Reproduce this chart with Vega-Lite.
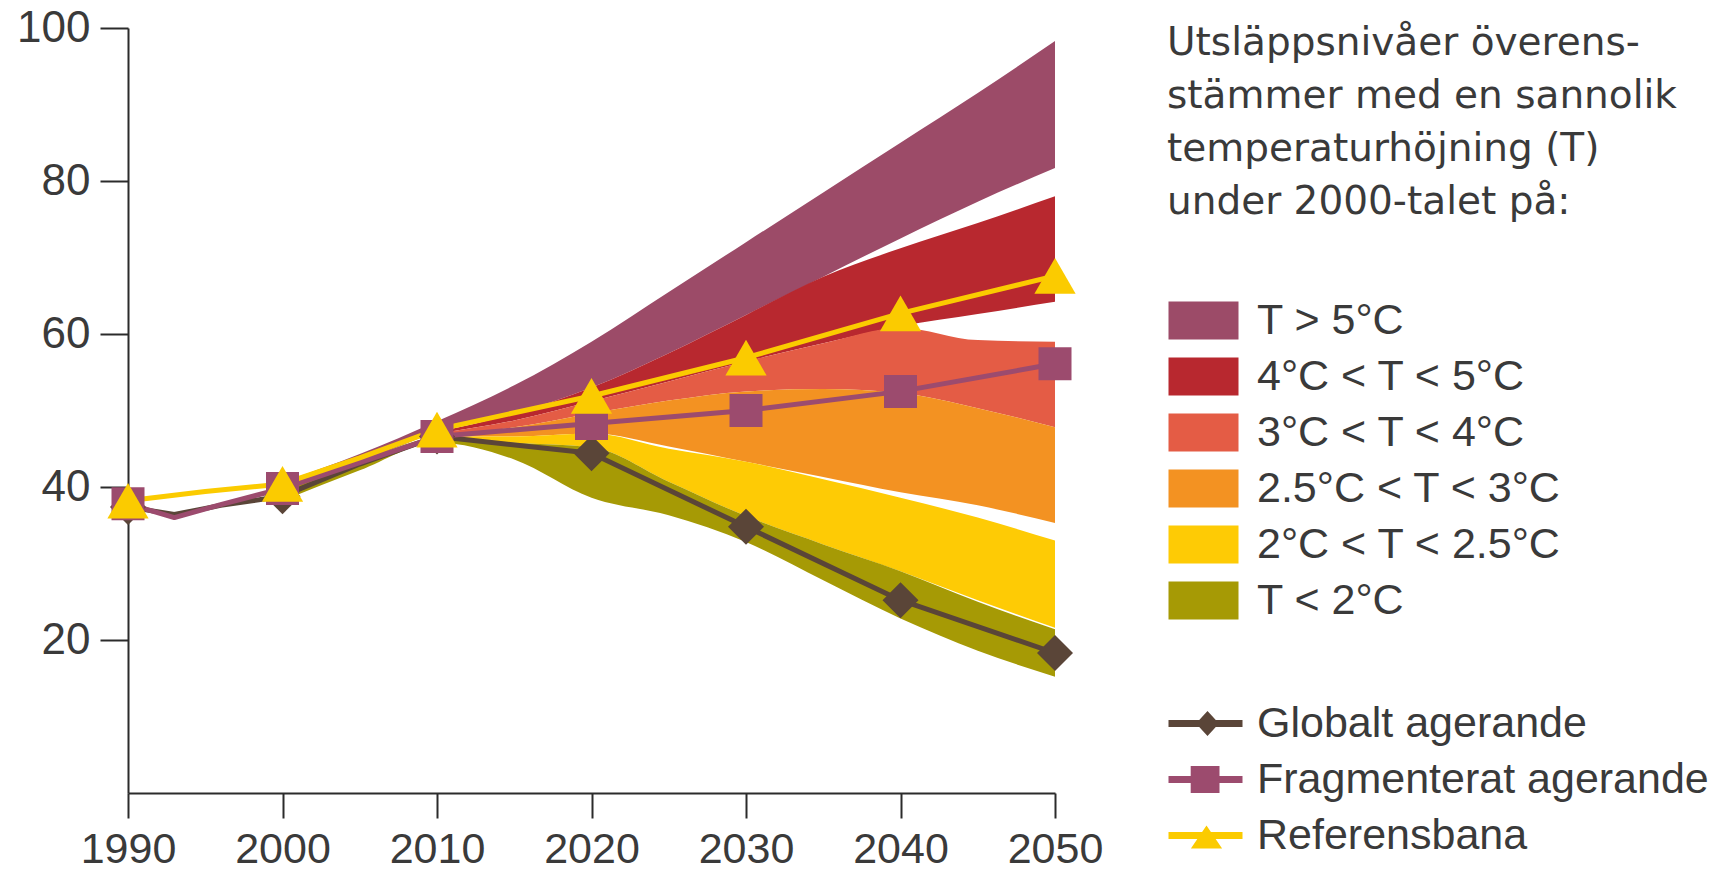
{
  "$schema": "https://vega.github.io/schema/vega-lite/v6.json",
  "autosize": {"type": "none"},
  "width": 927,
  "height": 765,
  "padding": {"left": 128, "top": 28, "right": 672, "bottom": 79},
  "background": "white",
  "config": {
    "view": {"stroke": null},
    "font": "Liberation Sans",
    "axis": {"labelFont": "Liberation Sans", "labelFontSize": 43, "labelColor": "#3a3a3a", "domainColor": "#2b2b2b", "tickColor": "#2b2b2b", "domainWidth": 2, "tickWidth": 2, "grid": false, "title": null},
    "legend": {"labelFont": "Liberation Sans", "titleFont": "DejaVu Sans", "labelColor": "#3a3a3a", "titleColor": "#3a3a3a", "padding": 0, "labelLimit": 700, "titleLimit": 700}
  },
  "datasets": {
    "bands": [
      {"band": "T > 5°C", "year": 2000, "v": 40.6, "lo": 39.4},
      {"band": "T > 5°C", "year": 2005, "v": 44.3, "lo": 43.2},
      {"band": "T > 5°C", "year": 2010, "v": 48.6, "lo": 47.2},
      {"band": "T > 5°C", "year": 2015, "v": 53.3, "lo": 49.6},
      {"band": "T > 5°C", "year": 2020, "v": 59.0, "lo": 53.0},
      {"band": "T > 5°C", "year": 2025, "v": 65.5, "lo": 57.5},
      {"band": "T > 5°C", "year": 2030, "v": 72.0, "lo": 62.5},
      {"band": "T > 5°C", "year": 2035, "v": 78.5, "lo": 67.5},
      {"band": "T > 5°C", "year": 2040, "v": 85.0, "lo": 72.5},
      {"band": "T > 5°C", "year": 2045, "v": 91.5, "lo": 77.3},
      {"band": "T > 5°C", "year": 2050, "v": 98.3, "lo": 81.7},
      {"band": "4°C < T < 5°C", "year": 2010, "v": 47.2, "lo": 47.0},
      {"band": "4°C < T < 5°C", "year": 2015, "v": 49.6, "lo": 48.7},
      {"band": "4°C < T < 5°C", "year": 2020, "v": 53.0, "lo": 51.2},
      {"band": "4°C < T < 5°C", "year": 2025, "v": 57.5, "lo": 53.8},
      {"band": "4°C < T < 5°C", "year": 2030, "v": 62.5, "lo": 56.4},
      {"band": "4°C < T < 5°C", "year": 2035, "v": 67.5, "lo": 58.8},
      {"band": "4°C < T < 5°C", "year": 2040, "v": 71.2, "lo": 61.0},
      {"band": "4°C < T < 5°C", "year": 2045, "v": 74.5, "lo": 62.6},
      {"band": "4°C < T < 5°C", "year": 2050, "v": 78.0, "lo": 64.2},
      {"band": "3°C < T < 4°C", "year": 2010, "v": 47.0, "lo": 46.8},
      {"band": "3°C < T < 4°C", "year": 2015, "v": 48.7, "lo": 47.8},
      {"band": "3°C < T < 4°C", "year": 2020, "v": 51.2, "lo": 49.6},
      {"band": "3°C < T < 4°C", "year": 2025, "v": 53.8, "lo": 51.3},
      {"band": "3°C < T < 4°C", "year": 2030, "v": 56.4, "lo": 52.5},
      {"band": "3°C < T < 4°C", "year": 2035, "v": 58.8, "lo": 52.8},
      {"band": "3°C < T < 4°C", "year": 2040, "v": 60.8, "lo": 52.3},
      {"band": "3°C < T < 4°C", "year": 2045, "v": 59.2, "lo": 50.3},
      {"band": "3°C < T < 4°C", "year": 2050, "v": 59.0, "lo": 47.8},
      {"band": "2.5°C < T < 3°C", "year": 2010, "v": 46.8, "lo": 46.6},
      {"band": "2.5°C < T < 3°C", "year": 2015, "v": 47.8, "lo": 46.6},
      {"band": "2.5°C < T < 3°C", "year": 2020, "v": 49.6, "lo": 47.0},
      {"band": "2.5°C < T < 3°C", "year": 2025, "v": 51.3, "lo": 45.3},
      {"band": "2.5°C < T < 3°C", "year": 2030, "v": 52.5, "lo": 43.3},
      {"band": "2.5°C < T < 3°C", "year": 2035, "v": 52.8, "lo": 41.3},
      {"band": "2.5°C < T < 3°C", "year": 2040, "v": 52.3, "lo": 39.3},
      {"band": "2.5°C < T < 3°C", "year": 2045, "v": 50.3, "lo": 37.6},
      {"band": "2.5°C < T < 3°C", "year": 2050, "v": 47.8, "lo": 35.3},
      {"band": "2°C < T < 2.5°C", "year": 2010, "v": 46.6, "lo": 46.4},
      {"band": "2°C < T < 2.5°C", "year": 2015, "v": 46.6, "lo": 45.8},
      {"band": "2°C < T < 2.5°C", "year": 2020, "v": 47.0, "lo": 45.2},
      {"band": "2°C < T < 2.5°C", "year": 2025, "v": 45.0, "lo": 40.7},
      {"band": "2°C < T < 2.5°C", "year": 2030, "v": 43.3, "lo": 36.2},
      {"band": "2°C < T < 2.5°C", "year": 2035, "v": 41.0, "lo": 32.5},
      {"band": "2°C < T < 2.5°C", "year": 2040, "v": 38.6, "lo": 29.0},
      {"band": "2°C < T < 2.5°C", "year": 2045, "v": 36.0, "lo": 25.2},
      {"band": "2°C < T < 2.5°C", "year": 2050, "v": 33.0, "lo": 21.6},
      {"band": "T < 2°C", "year": 2000, "v": 39.4, "lo": 38.2},
      {"band": "T < 2°C", "year": 2005, "v": 43.2, "lo": 42.2},
      {"band": "T < 2°C", "year": 2010, "v": 46.4, "lo": 45.8},
      {"band": "T < 2°C", "year": 2015, "v": 45.8, "lo": 43.6},
      {"band": "T < 2°C", "year": 2020, "v": 45.2, "lo": 38.6},
      {"band": "T < 2°C", "year": 2025, "v": 40.7, "lo": 36.3},
      {"band": "T < 2°C", "year": 2030, "v": 36.2, "lo": 32.8},
      {"band": "T < 2°C", "year": 2035, "v": 32.5, "lo": 27.8},
      {"band": "T < 2°C", "year": 2040, "v": 29.0, "lo": 22.8},
      {"band": "T < 2°C", "year": 2045, "v": 25.0, "lo": 18.6},
      {"band": "T < 2°C", "year": 2050, "v": 21.4, "lo": 15.2}
    ],
    "series": [
      {"series": "Globalt agerande", "year": 1990, "v": 37.4},
      {"series": "Globalt agerande", "year": 1993, "v": 36.4},
      {"series": "Globalt agerande", "year": 1996, "v": 37.6},
      {"series": "Globalt agerande", "year": 2000, "v": 38.8},
      {"series": "Globalt agerande", "year": 2005, "v": 43.0},
      {"series": "Globalt agerande", "year": 2010, "v": 46.6},
      {"series": "Globalt agerande", "year": 2020, "v": 44.4},
      {"series": "Globalt agerande", "year": 2030, "v": 34.8},
      {"series": "Globalt agerande", "year": 2040, "v": 25.2},
      {"series": "Globalt agerande", "year": 2050, "v": 18.3},
      {"series": "Fragmenterat agerande", "year": 1990, "v": 37.8},
      {"series": "Fragmenterat agerande", "year": 1993, "v": 36.0},
      {"series": "Fragmenterat agerande", "year": 1996, "v": 37.7},
      {"series": "Fragmenterat agerande", "year": 2000, "v": 39.8},
      {"series": "Fragmenterat agerande", "year": 2005, "v": 43.2},
      {"series": "Fragmenterat agerande", "year": 2010, "v": 46.6},
      {"series": "Fragmenterat agerande", "year": 2020, "v": 48.3},
      {"series": "Fragmenterat agerande", "year": 2030, "v": 50.0},
      {"series": "Fragmenterat agerande", "year": 2040, "v": 52.5},
      {"series": "Fragmenterat agerande", "year": 2050, "v": 56.1},
      {"series": "Referensbana", "year": 1990, "v": 38.2},
      {"series": "Referensbana", "year": 1995, "v": 39.4},
      {"series": "Referensbana", "year": 2000, "v": 40.4},
      {"series": "Referensbana", "year": 2005, "v": 43.8},
      {"series": "Referensbana", "year": 2010, "v": 47.5},
      {"series": "Referensbana", "year": 2020, "v": 51.9},
      {"series": "Referensbana", "year": 2030, "v": 56.9},
      {"series": "Referensbana", "year": 2040, "v": 62.7},
      {"series": "Referensbana", "year": 2050, "v": 67.6}
    ]
  },
  "encoding": {
    "x": {
      "field": "year", "type": "quantitative",
      "scale": {"domain": [1990, 2050], "nice": false, "zero": false},
      "axis": {"values": [1990, 2000, 2010, 2020, 2030, 2040, 2050], "format": "d", "tickSize": 25, "labelPadding": 10, "labelFlush": false, "labelOverlap": false}
    },
    "y": {
      "field": "v", "type": "quantitative",
      "scale": {"domain": [0, 100], "nice": false},
      "axis": {"values": [20, 40, 60, 80, 100], "tickSize": 28, "labelPadding": 10, "labelOverlap": false, "labelFontSize": 44}
    }
  },
  "layer": [
    {
      "data": {"name": "bands"},
      "mark": {"type": "area", "interpolate": "monotone", "opacity": 1},
      "encoding": {
        "y2": {"field": "lo"},
        "fill": {
          "field": "band", "type": "nominal",
          "scale": {
            "domain": ["T > 5°C", "4°C < T < 5°C", "3°C < T < 4°C", "2.5°C < T < 3°C", "2°C < T < 2.5°C", "T < 2°C"],
            "range": ["#9c4b68", "#b8282f", "#e45c45", "#f39222", "#fecb05", "#a69a05"]
          },
          "legend": {
            "orient": "none", "legendX": 1039, "legendY": -4,
            "title": ["Utsläppsnivåer överens-", "stämmer med en sannolik", "temperaturhöjning (T)", "under 2000-talet på:"],
            "titleFontSize": 39, "titleFontWeight": "normal", "titleLineHeight": 53, "titlePadding": 77,
            "symbolType": "M-1,-0.95H2.5V0.95H-1Z", "symbolSize": 1600, "symbolStrokeWidth": 0, "symbolOpacity": 1,
            "labelFontSize": 43, "labelOffset": 47, "rowPadding": 12
          }
        }
      }
    },
    {
      "data": {"name": "series"},
      "mark": {"type": "line", "strokeWidth": 5, "strokeJoin": "round"},
      "encoding": {
        "stroke": {
          "field": "series", "type": "nominal",
          "scale": {"domain": ["Globalt agerande", "Fragmenterat agerande", "Referensbana"], "range": ["#5a4538", "#9c4b6e", "#fbcb00"]},
          "legend": {
            "orient": "none", "legendX": 1039, "legendY": 674, "title": null,
            "symbolSize": 1600, "labelFontSize": 43, "labelOffset": 47, "rowPadding": 12,
            "encode": {
              "symbols": {
                "update": {
                  "shape": {"signal": "datum.value === 'Globalt agerande' ? 'M-1,-0.175H2.7V0.175H-1Z M0.95,-0.625L1.525,0L0.95,0.625L0.375,0Z' : datum.value === 'Fragmenterat agerande' ? 'M-1,-0.175H2.7V0.175H-1Z M0.11,-0.675H1.55V0.675H0.11Z' : 'M-1,-0.175H2.7V0.175H-1Z M0.9,-0.5L1.68,0.65H0.12Z'"},
                  "fill": {"scale": "stroke", "field": "value"},
                  "stroke": {"value": "transparent"},
                  "strokeWidth": {"value": 0},
                  "opacity": {"value": 1}
                }
              }
            }
          }
        }
      }
    },
    {
      "data": {"name": "series"},
      "transform": [{"filter": "datum.series === 'Globalt agerande' && datum.year % 10 === 0"}],
      "mark": {"type": "point", "shape": "diamond", "filled": true, "opacity": 1, "strokeWidth": 0, "size": 1300, "color": "#5a4538"}
    },
    {
      "data": {"name": "series"},
      "transform": [{"filter": "datum.series === 'Fragmenterat agerande' && datum.year % 10 === 0"}],
      "mark": {"type": "point", "shape": "square", "filled": true, "opacity": 1, "strokeWidth": 0, "size": 1089, "color": "#9c4b6e"}
    },
    {
      "data": {"name": "series"},
      "transform": [{"filter": "datum.series === 'Referensbana' && datum.year % 10 === 0"}],
      "mark": {"type": "point", "shape": "triangle-up", "filled": true, "opacity": 1, "strokeWidth": 0, "size": 1700, "color": "#fbcb00"}
    }
  ]
}
